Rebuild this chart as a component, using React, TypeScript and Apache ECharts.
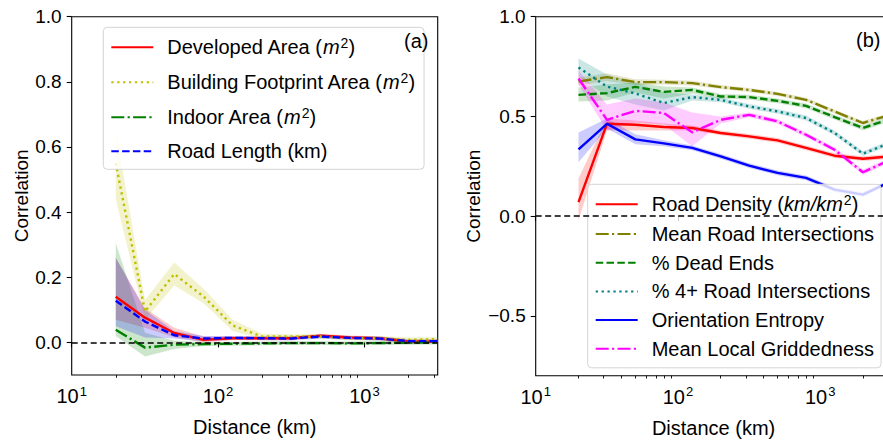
import React, { useEffect, useRef } from 'react';
import * as echarts from 'echarts';

const FONT = '"Liberation Sans", Arial, Helvetica, sans-serif';

// distance bins (km)
const distances = [20, 31.7, 50.2, 79.6, 126, 200, 317, 502, 796, 1262, 2000, 3170];
const xMajorTicks = [10, 100, 1000];
const xMinorTicks = [20, 30, 40, 50, 60, 70, 80, 90, 200, 300, 400, 500, 600, 700, 800, 900, 2000, 3000];
const yTicksA = [0, 0.2, 0.4, 0.6, 0.8, 1.0];
const yTicksB = [-0.5, 0, 0.5, 1.0];

// ---- panel (a) ----
const developedArea = [0.14, 0.076, 0.029, 0.008, 0.013, 0.013, 0.013, 0.021, 0.015, 0.013, 0.003, 0.003];
const developedAreaLo = [0.07, 0.045, 0.016, 0.0, 0.007, 0.007, 0.007, 0.015, 0.009, 0.007, -0.003, -0.003];
const developedAreaHi = [0.26, 0.105, 0.045, 0.018, 0.019, 0.019, 0.019, 0.027, 0.021, 0.019, 0.009, 0.009];

const footprintArea = [0.55, 0.095, 0.21, 0.141, 0.052, 0.018, 0.018, 0.018, 0.013, 0.013, 0.008, 0.01];
const footprintAreaLo = [0.44, 0.07, 0.175, 0.12, 0.035, 0.01, 0.011, 0.011, 0.006, 0.006, 0.001, 0.003];
const footprintAreaHi = [0.65, 0.13, 0.245, 0.165, 0.07, 0.027, 0.025, 0.025, 0.02, 0.02, 0.015, 0.017];

const indoorArea = [0.039, -0.016, -0.007, -0.005, -0.004, -0.003, -0.002, -0.002, -0.003, -0.002, -0.001, 0.0];
const indoorAreaLo = [0.02, -0.043, -0.02, -0.011, -0.01, -0.009, -0.008, -0.008, -0.009, -0.008, -0.007, -0.006];
const indoorAreaHi = [0.305, 0.03, 0.005, 0.001, 0.002, 0.003, 0.004, 0.004, 0.003, 0.004, 0.005, 0.006];

const roadLength = [0.128, 0.064, 0.022, 0.012, 0.014, 0.013, 0.012, 0.018, 0.014, 0.012, 0.004, 0.004];
const roadLengthLo = [0.05, 0.015, 0.012, 0.003, 0.008, 0.007, 0.006, 0.012, 0.008, 0.006, -0.002, -0.002];
const roadLengthHi = [0.26, 0.1, 0.035, 0.02, 0.02, 0.019, 0.018, 0.024, 0.02, 0.018, 0.01, 0.01];

// ---- panel (b) ----
const roadDensity = [0.07, 0.463, 0.458, 0.447, 0.442, 0.417, 0.4, 0.38, 0.342, 0.303, 0.288, 0.3];
const roadDensityLo = [-0.02, 0.43, 0.43, 0.43, 0.43, 0.405, 0.388, 0.368, 0.33, 0.291, 0.276, 0.288];
const roadDensityHi = [0.19, 0.49, 0.48, 0.465, 0.454, 0.429, 0.412, 0.392, 0.354, 0.315, 0.3, 0.312];

const meanIntersections = [0.675, 0.697, 0.672, 0.672, 0.667, 0.647, 0.633, 0.613, 0.583, 0.525, 0.467, 0.51];
const meanIntersectionsLo = [0.655, 0.677, 0.657, 0.66, 0.655, 0.637, 0.623, 0.603, 0.573, 0.515, 0.457, 0.5];
const meanIntersectionsHi = [0.695, 0.717, 0.687, 0.684, 0.679, 0.657, 0.643, 0.623, 0.593, 0.535, 0.477, 0.52];

const deadEnds = [0.608, 0.617, 0.648, 0.623, 0.633, 0.6, 0.597, 0.578, 0.553, 0.497, 0.442, 0.49];
const deadEndsLo = [0.575, 0.58, 0.62, 0.59, 0.615, 0.588, 0.585, 0.566, 0.541, 0.485, 0.43, 0.478];
const deadEndsHi = [0.645, 0.66, 0.67, 0.65, 0.645, 0.612, 0.609, 0.59, 0.565, 0.509, 0.454, 0.502];

const fourWay = [0.745, 0.65, 0.615, 0.567, 0.597, 0.583, 0.55, 0.525, 0.492, 0.417, 0.313, 0.37];
const fourWayLo = [0.7, 0.6, 0.56, 0.53, 0.58, 0.571, 0.538, 0.513, 0.48, 0.405, 0.301, 0.358];
const fourWayHi = [0.79, 0.71, 0.67, 0.62, 0.61, 0.595, 0.562, 0.537, 0.504, 0.429, 0.325, 0.382];

const entropy = [0.335, 0.463, 0.385, 0.365, 0.342, 0.3, 0.253, 0.217, 0.192, 0.133, 0.108, 0.175];
const entropyLo = [0.27, 0.44, 0.36, 0.35, 0.33, 0.288, 0.241, 0.205, 0.18, 0.121, 0.096, 0.163];
const entropyHi = [0.42, 0.49, 0.41, 0.38, 0.354, 0.312, 0.265, 0.229, 0.204, 0.145, 0.12, 0.187];

const griddedness = [0.69, 0.483, 0.528, 0.517, 0.42, 0.483, 0.508, 0.475, 0.408, 0.333, 0.22, 0.285];
const griddednessLo = [0.66, 0.43, 0.47, 0.46, 0.35, 0.465, 0.496, 0.463, 0.396, 0.321, 0.208, 0.273];
const griddednessHi = [0.73, 0.56, 0.59, 0.57, 0.52, 0.5, 0.52, 0.487, 0.42, 0.345, 0.232, 0.297];

const namesA = ['Developed Area (m2)', 'Building Footprint Area (m2)', 'Indoor Area (m2)', 'Road Length (km)'];
const namesB = [
  'Road Density (km/km2)',
  'Mean Road Intersections',
  '% Dead Ends',
  '% 4+ Road Intersections',
  'Orientation Entropy',
  'Mean Local Griddedness',
];

const DASHED = [7.5, 3.3];
const DOTTED = [2.3, 3.6];
const DASHDOT = [13, 3.3, 2.2, 3.3];

const lg = (v: number) => Math.log10(v);
const pts = (vals: number[]) => distances.map((d, i) => [lg(d), vals[i]]);

function lineSeries(name: string, vals: number[], color: string, dash: any, xi: number, yi: number, extra: any = {}) {
  return {
    type: 'line',
    name,
    data: pts(vals),
    xAxisIndex: xi,
    yAxisIndex: yi,
    symbol: 'none',
    showSymbol: false,
    lineStyle: { color, width: 2.4, type: dash, cap: 'butt' },
    itemStyle: { color },
    z: 3,
    ...extra,
  };
}

function bandSeries(lo: number[], hi: number[], fill: string, xi: number, yi: number) {
  return {
    type: 'custom',
    xAxisIndex: xi,
    yAxisIndex: yi,
    silent: true,
    z: 1,
    data: distances.map((d, i) => [lg(d), lo[i], hi[i]]),
    encode: { x: 0, y: 1 },
    renderItem: (params: any, api: any) => {
      if (params.dataIndex !== 0) return null;
      const upper = distances.map((d, i) => api.coord([lg(d), hi[i]]));
      const lower = distances.map((d, i) => api.coord([lg(d), lo[i]])).reverse();
      return { type: 'polygon', shape: { points: upper.concat(lower) }, style: { fill } };
    },
  };
}

const zeroLine = {
  silent: true,
  symbol: 'none',
  label: { show: false },
  lineStyle: { color: '#000', type: [6, 3.5], width: 1.5 },
  data: [{ yAxis: 0 }],
};

const legendRich: Record<string, string> = {
  'Developed Area (m2)': '{g| }Developed Area ({i|m}{s|2})',
  'Building Footprint Area (m2)': '{g| }Building Footprint Area ({i|m}{s|2})',
  'Indoor Area (m2)': '{g| }Indoor Area ({i|m}{s|2})',
  'Road Density (km/km2)': '{g| }Road Density ({i|km/km}{s|2})',
};

const LF = 20;
const richStyles = {
  g: { width: 9, fontSize: LF, fontFamily: FONT },
  i: { fontStyle: 'italic', fontSize: LF, fontFamily: FONT, color: '#000', lineHeight: 20 },
  s: { fontSize: 14, fontFamily: FONT, color: '#000', lineHeight: 12, padding: [0, 0, 8, 1] },
};

function xAxes(gridIndex: number) {
  return [
    {
      type: 'value',
      gridIndex,
      position: 'bottom',
      min: 1,
      max: lg(distances[distances.length - 1]),
      axisLine: { show: false },
      splitLine: { show: false },
      axisTick: { show: true, length: 5, lineStyle: { color: '#000', width: 1.1 }, customValues: xMajorTicks.map(lg) },
      axisLabel: {
        customValues: xMajorTicks.map(lg),
        margin: 10,
        formatter: (v: number) => `{b|10}{s|${Math.round(v)}}`,
        rich: {
          b: { fontSize: 20, fontFamily: FONT, color: '#000', lineHeight: 22 },
          s: { fontSize: 13, fontFamily: FONT, color: '#000', lineHeight: 12, padding: [0, 0, 10, 1] },
        },
      },
      name: 'Distance (km)',
      nameLocation: 'middle',
      nameGap: 42,
      nameTextStyle: { fontSize: 20, fontFamily: FONT, color: '#000' },
    },
    {
      type: 'value',
      gridIndex,
      position: 'bottom',
      min: 1,
      max: lg(distances[distances.length - 1]),
      axisLine: { show: false },
      splitLine: { show: false },
      axisLabel: { show: false },
      axisTick: { show: true, length: 2.8, lineStyle: { color: '#000', width: 0.9 }, customValues: xMinorTicks.map(lg) },
    },
  ];
}

function yAxis(gridIndex: number, min: number, max: number, ticks: number[], nameGap: number) {
  return {
    type: 'value',
    gridIndex,
    min,
    max,
    axisLine: { show: false },
    splitLine: { show: false },
    axisTick: { show: true, length: 5, lineStyle: { color: '#000', width: 1.1 }, customValues: ticks },
    axisLabel: {
      customValues: ticks,
      margin: 10,
      color: '#000',
      fontSize: 19,
      fontFamily: FONT,
      formatter: (v: number) => v.toFixed(1).replace('-', '\u2212'),
    },
    name: 'Correlation',
    nameLocation: 'middle',
    nameGap,
    nameTextStyle: { fontSize: 19, fontFamily: FONT, color: '#000' },
  };
}

function legend(names: string[], left: number, top: number, gap: number, padding: number[]) {
  return {
    data: names,
    orient: 'vertical',
    left,
    top,
    itemWidth: 42,
    itemHeight: 14,
    itemGap: gap,
    padding,
    selectedMode: false,
    backgroundColor: 'rgba(255,255,255,0.8)',
    borderColor: '#d4d4d4',
    borderWidth: 1,
    borderRadius: 4,
    itemStyle: { opacity: 0, borderWidth: 0 },
    textStyle: { fontSize: LF, fontFamily: FONT, color: '#000', lineHeight: 20, rich: richStyles },
    formatter: (name: string) => legendRich[name] || `{g| }${name}`,
  };
}

export default function App() {
  const ref = useRef<HTMLDivElement>(null);
  useEffect(() => {
    document.body.style.margin = '0';
    document.body.style.overflow = 'hidden';
    if (!ref.current) return;
    const chart = echarts.init(ref.current, undefined, { renderer: 'svg' });
    const gridBase = { show: true, borderColor: '#000', borderWidth: 1.1, backgroundColor: 'transparent', containLabel: false, outerBoundsMode: 'none' };
    const option: any = {
      animation: false,
      backgroundColor: '#fff',
      grid: [
        { ...gridBase, left: 71.7, top: 16.7, width: 366, height: 358.3 },
        { ...gridBase, left: 535.7, top: 16.7, width: 355.7, height: 359 },
      ],
      xAxis: [...xAxes(0), ...xAxes(1)],
      yAxis: [yAxis(0, -0.1, 1.0, yTicksA, 40), yAxis(1, -0.8, 1.0, yTicksB, 53)],
      legend: [
        legend(namesA, 103.3, 27.3, 13, [9, 9, 8, 7]),
        legend(namesB, 587.7, 184.3, 8.7, [9, 7, 9, 7]),
      ],
      graphic: [
        { type: 'text', left: 404, top: 31, z: 100, style: { text: '(a)', fontSize: 20, fontFamily: FONT, fill: '#000' } },
        { type: 'text', left: 856, top: 30, z: 100, style: { text: '(b)', fontSize: 20, fontFamily: FONT, fill: '#000' } },
      ],
      series: [
        bandSeries(developedAreaLo, developedAreaHi, 'rgba(255,0,0,0.2)', 0, 0),
        bandSeries(footprintAreaLo, footprintAreaHi, 'rgba(191,191,0,0.2)', 0, 0),
        bandSeries(indoorAreaLo, indoorAreaHi, 'rgba(0,128,0,0.2)', 0, 0),
        bandSeries(roadLengthLo, roadLengthHi, 'rgba(0,0,255,0.2)', 0, 0),
        lineSeries(namesA[0], developedArea, '#ff0000', 'solid', 0, 0),
        lineSeries(namesA[1], footprintArea, '#bfbf00', DOTTED, 0, 0),
        lineSeries(namesA[2], indoorArea, '#008000', DASHDOT, 0, 0),
        lineSeries(namesA[3], roadLength, '#0000ff', DASHED, 0, 0, { markLine: zeroLine }),

        bandSeries(roadDensityLo, roadDensityHi, 'rgba(255,0,0,0.2)', 2, 1),
        bandSeries(meanIntersectionsLo, meanIntersectionsHi, 'rgba(128,128,0,0.2)', 2, 1),
        bandSeries(deadEndsLo, deadEndsHi, 'rgba(0,128,0,0.2)', 2, 1),
        bandSeries(fourWayLo, fourWayHi, 'rgba(0,128,128,0.2)', 2, 1),
        bandSeries(entropyLo, entropyHi, 'rgba(0,0,255,0.2)', 2, 1),
        bandSeries(griddednessLo, griddednessHi, 'rgba(255,0,255,0.2)', 2, 1),
        lineSeries(namesB[0], roadDensity, '#ff0000', 'solid', 2, 1),
        lineSeries(namesB[1], meanIntersections, '#808000', DASHDOT, 2, 1),
        lineSeries(namesB[2], deadEnds, '#008000', DASHED, 2, 1),
        lineSeries(namesB[3], fourWay, '#008080', DOTTED, 2, 1),
        lineSeries(namesB[4], entropy, '#0000ff', 'solid', 2, 1),
        lineSeries(namesB[5], griddedness, '#ff00ff', DASHDOT, 2, 1, { markLine: zeroLine }),
      ],
    };
    chart.setOption(option);
    return () => chart.dispose();
  }, []);
  return <div ref={ref} style={{ width: 900, height: 440 }} />;
}
